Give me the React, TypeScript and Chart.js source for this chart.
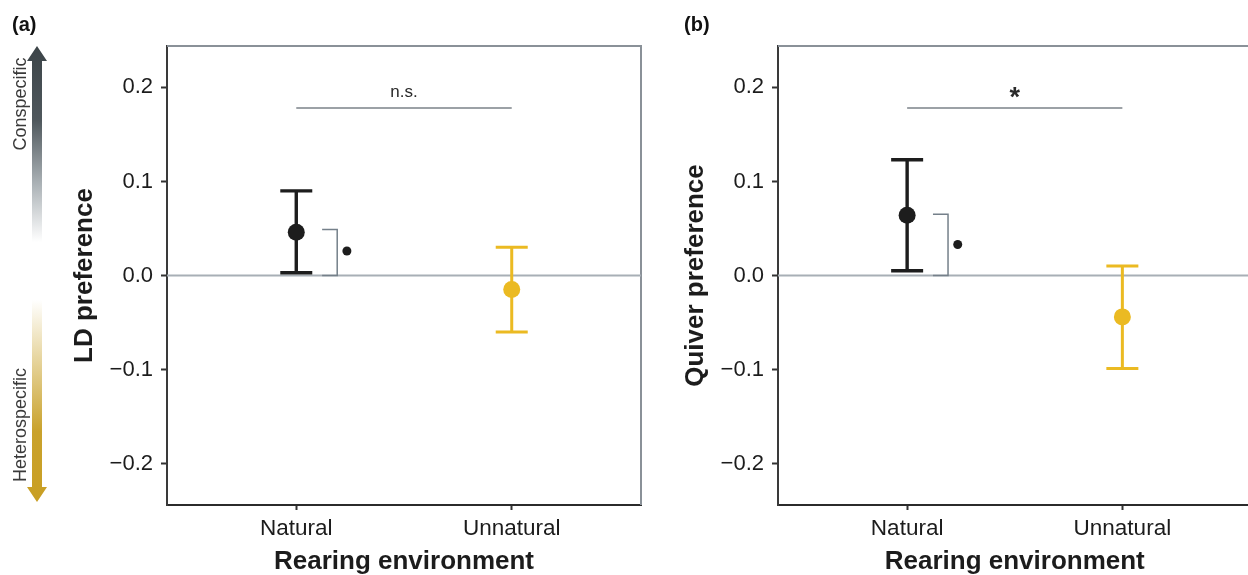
import React, { useEffect, useRef } from 'react';
import { Chart, registerables } from 'chart.js';

Chart.register(...registerables);

// ---------- data ----------
const categories = ['Natural', 'Unnatural'];
const categoryPositions = [1, 2];
const yTickValues = [-0.2, -0.1, 0, 0.1, 0.2];

const ldMean = [0.046, -0.015];
const ldUpper = [0.09, 0.03];
const ldLower = [0.003, -0.06];

const quiverMean = [0.064, -0.044];
const quiverUpper = [0.123, 0.01];
const quiverLower = [0.005, -0.099];

const sigLineValues = [0.178, 0.178];
const sigLabels = ['n.s.', '*'];
const bracketTopValues = [0.049, 0.065];
const bracketDotValues = [0.026, 0.033];

const panelLabels = ['(a)', '(b)'];
const yTitles = ['LD preference', 'Quiver preference'];
const xTitle = 'Rearing environment';
const arrowLabels = ['Conspecific', 'Heterospecific'];

const pointColors = ['#1d1d1d', '#ebba22'];

const FONT = "'Liberation Sans', Arial, Helvetica, sans-serif";

const fmtTick = (v: number) => {
  const s = Math.abs(v).toFixed(1);
  return v < -1e-9 ? '\u2212' + s : s;
};

function drawArrow(ctx: CanvasRenderingContext2D) {
  const ax = 37;
  const sw = 5; // half shaft width
  const hw = 10; // half head width
  const hh = 15; // head height
  // top (conspecific) arrow
  const topTip = 46;
  const topEnd = 242;
  let g = ctx.createLinearGradient(0, topTip, 0, topEnd);
  g.addColorStop(0, '#3c4448');
  g.addColorStop(0.38, '#4f585d');
  g.addColorStop(0.7, '#aab1b5');
  g.addColorStop(1, '#ffffff');
  ctx.fillStyle = g;
  ctx.beginPath();
  ctx.moveTo(ax, topTip);
  ctx.lineTo(ax + hw, topTip + hh);
  ctx.lineTo(ax + sw, topTip + hh);
  ctx.lineTo(ax + sw, topEnd);
  ctx.lineTo(ax - sw, topEnd);
  ctx.lineTo(ax - sw, topTip + hh);
  ctx.lineTo(ax - hw, topTip + hh);
  ctx.closePath();
  ctx.fill();
  // bottom (heterospecific) arrow
  const botStart = 300;
  const botTip = 502;
  g = ctx.createLinearGradient(0, botStart, 0, botTip);
  g.addColorStop(0, '#ffffff');
  g.addColorStop(0.3, '#e6d49c');
  g.addColorStop(0.65, '#c9a22c');
  g.addColorStop(1, '#c99f24');
  ctx.fillStyle = g;
  ctx.beginPath();
  ctx.moveTo(ax - sw, botStart);
  ctx.lineTo(ax + sw, botStart);
  ctx.lineTo(ax + sw, botTip - hh);
  ctx.lineTo(ax + hw, botTip - hh);
  ctx.lineTo(ax, botTip);
  ctx.lineTo(ax - hw, botTip - hh);
  ctx.lineTo(ax - sw, botTip - hh);
  ctx.closePath();
  ctx.fill();
  // labels
  ctx.fillStyle = '#3a3a3a';
  ctx.font = `18px ${FONT}`;
  ctx.textAlign = 'center';
  ctx.textBaseline = 'middle';
  const labelY = [104, 425];
  arrowLabels.forEach((t, i) => {
    ctx.save();
    ctx.translate(21, labelY[i]);
    ctx.rotate(-Math.PI / 2);
    ctx.fillText(t, 0, 0);
    ctx.restore();
  });
}

function makePlugin(idx: number) {
  const means = idx === 0 ? ldMean : quiverMean;
  const uppers = idx === 0 ? ldUpper : quiverUpper;
  const lowers = idx === 0 ? ldLower : quiverLower;
  return {
    id: 'decor' + idx,
    beforeDatasetsDraw(chart: any) {
      const { ctx, chartArea: a, scales } = chart;
      const xs = scales.x;
      const ys = scales.y;
      ctx.save();
      // top & right panel border
      ctx.strokeStyle = '#8a9198';
      ctx.lineWidth = 2;
      ctx.beginPath();
      ctx.moveTo(a.left, a.top);
      ctx.lineTo(a.right, a.top);
      ctx.lineTo(a.right, a.bottom);
      ctx.stroke();
      // zero reference line
      const y0 = ys.getPixelForValue(0);
      ctx.strokeStyle = '#a8afb6';
      ctx.lineWidth = 2;
      ctx.beginPath();
      ctx.moveTo(a.left, y0);
      ctx.lineTo(a.right, y0);
      ctx.stroke();
      // error bars
      means.forEach((m, i) => {
        const x = xs.getPixelForValue(categoryPositions[i]);
        const yu = ys.getPixelForValue(uppers[i]);
        const yl = ys.getPixelForValue(lowers[i]);
        ctx.strokeStyle = pointColors[i];
        ctx.lineWidth = i === 0 ? 3.4 : 3;
        ctx.beginPath();
        ctx.moveTo(x, yu);
        ctx.lineTo(x, yl);
        ctx.moveTo(x - 16, yu);
        ctx.lineTo(x + 16, yu);
        ctx.moveTo(x - 16, yl);
        ctx.lineTo(x + 16, yl);
        ctx.stroke();
      });
      // bracket next to natural
      const bx0 = xs.getPixelForValue(categoryPositions[0] + 0.12);
      const bx1 = xs.getPixelForValue(categoryPositions[0] + 0.19);
      const bTop = ys.getPixelForValue(bracketTopValues[idx]);
      ctx.strokeStyle = '#75808a';
      ctx.lineWidth = 1.5;
      ctx.beginPath();
      ctx.moveTo(bx0, bTop);
      ctx.lineTo(bx1, bTop);
      ctx.lineTo(bx1, y0);
      ctx.lineTo(bx0, y0);
      ctx.stroke();
      const dx = xs.getPixelForValue(categoryPositions[0] + 0.235);
      const dy = ys.getPixelForValue(bracketDotValues[idx]);
      ctx.fillStyle = '#1d1d1d';
      ctx.beginPath();
      ctx.arc(dx, dy, 4.5, 0, Math.PI * 2);
      ctx.fill();
      // significance line
      const sy = ys.getPixelForValue(sigLineValues[idx]);
      const sx0 = xs.getPixelForValue(categoryPositions[0]);
      const sx1 = xs.getPixelForValue(categoryPositions[1]);
      ctx.strokeStyle = '#7b8289';
      ctx.lineWidth = 1.5;
      ctx.beginPath();
      ctx.moveTo(sx0, sy);
      ctx.lineTo(sx1, sy);
      ctx.stroke();
      ctx.fillStyle = '#2a2a2a';
      ctx.textAlign = 'center';
      ctx.textBaseline = 'alphabetic';
      if (sigLabels[idx] === '*') {
        ctx.font = `bold 27px ${FONT}`;
        ctx.fillText(sigLabels[idx], (sx0 + sx1) / 2, sy - 2);
      } else {
        ctx.font = `17px ${FONT}`;
        ctx.fillText(sigLabels[idx], (sx0 + sx1) / 2, sy - 11);
      }
      ctx.restore();
    },
    afterDraw(chart: any) {
      const { ctx } = chart;
      ctx.save();
      ctx.fillStyle = '#111';
      ctx.font = `bold 20px ${FONT}`;
      ctx.textAlign = 'left';
      ctx.textBaseline = 'alphabetic';
      ctx.fillText(panelLabels[idx], idx === 0 ? 12 : 24, 31);
      if (idx === 0) drawArrow(ctx);
      ctx.restore();
    },
  };
}

function makeConfig(idx: number, yAxisWidth: number, padRight: number, titlePad: number): any {
  const means = idx === 0 ? ldMean : quiverMean;
  return {
    type: 'scatter',
    data: {
      datasets: [
        {
          data: means.map((m, i) => ({ x: categoryPositions[i], y: m })),
          pointRadius: 8.5,
          pointHoverRadius: 8.5,
          pointBackgroundColor: pointColors,
          pointBorderWidth: 0,
          showLine: false,
        },
      ],
    },
    options: {
      responsive: false,
      animation: false,
      events: [],
      layout: { padding: { top: 46, right: padRight, left: 0, bottom: 0 } },
      plugins: { legend: { display: false }, tooltip: { enabled: false }, title: { display: false } },
      scales: {
        x: {
          type: 'linear',
          min: 0.4,
          max: 2.6,
          afterBuildTicks: (s: any) => {
            s.ticks = categoryPositions.map((v) => ({ value: v }));
          },
          afterFit: (s: any) => {
            s.height = 70;
          },
          ticks: {
            autoSkip: false,
            maxRotation: 0,
            padding: 5,
            color: '#1c1c1c',
            font: { family: FONT, size: 22.5, lineHeight: 1.2 },
            callback: (v: number) => categories[categoryPositions.indexOf(v)] ?? '',
          },
          grid: { display: true, drawOnChartArea: false, drawTicks: true, tickLength: 5, tickWidth: 2, tickColor: '#333' },
          border: { display: true, color: '#2b2b2b', width: 2 },
          title: {
            display: true,
            text: xTitle,
            color: '#1c1c1c',
            padding: { top: 0, bottom: 0 },
            font: { family: FONT, size: 26, weight: 'bold', lineHeight: 1 },
          },
        },
        y: {
          type: 'linear',
          min: -0.244,
          max: 0.244,
          afterBuildTicks: (s: any) => {
            s.ticks = yTickValues.map((v) => ({ value: v }));
          },
          afterFit: (s: any) => {
            s.width = yAxisWidth;
          },
          ticks: {
            autoSkip: false,
            padding: 8,
            color: '#1c1c1c',
            font: { family: FONT, size: 22 },
            callback: (v: number) => fmtTick(v),
          },
          grid: { display: true, drawOnChartArea: false, drawTicks: true, tickLength: 6, tickWidth: 2, tickColor: '#333' },
          border: { display: true, color: '#3a3a3a', width: 2 },
          title: {
            display: true,
            text: yTitles[idx],
            color: '#1c1c1c',
            padding: { top: titlePad, bottom: 0 },
            font: { family: FONT, size: 26, weight: 'bold', lineHeight: 1 },
          },
        },
      },
    },
    plugins: [makePlugin(idx)],
  };
}

export default function App() {
  const refA = useRef<HTMLCanvasElement>(null);
  const refB = useRef<HTMLCanvasElement>(null);

  useEffect(() => {
    const a = new Chart(refA.current as HTMLCanvasElement, makeConfig(0, 167, 19, 72));
    const b = new Chart(refB.current as HTMLCanvasElement, makeConfig(1, 118, 8, 23));
    return () => {
      a.destroy();
      b.destroy();
    };
  }, []);

  return (
    <div
      style={{
        position: 'fixed',
        left: 0,
        top: 0,
        width: 1248,
        height: 575,
        overflow: 'hidden',
        background: '#ffffff',
      }}
    >
      <canvas
        ref={refA}
        width={660}
        height={575}
        style={{ position: 'absolute', left: 0, top: 0, width: 660, height: 575 }}
      />
      <canvas
        ref={refB}
        width={600}
        height={575}
        style={{ position: 'absolute', left: 660, top: 0, width: 600, height: 575 }}
      />
    </div>
  );
}
